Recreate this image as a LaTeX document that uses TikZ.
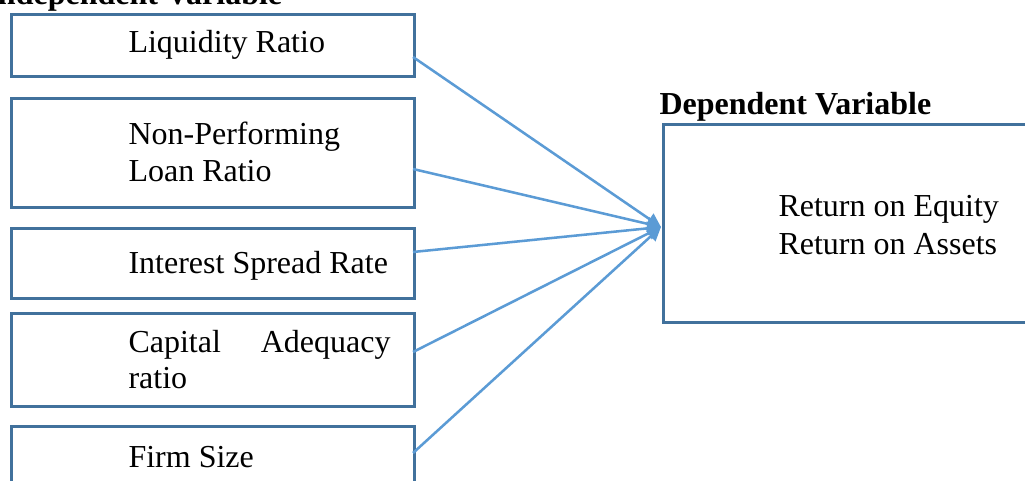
\documentclass[tikz,border=0pt]{standalone}
\usepackage{fontspec}
\setmainfont{Liberation Serif}
\usetikzlibrary{arrows.meta}
\definecolor{boxline}{HTML}{41719C}
\definecolor{arrowline}{HTML}{5B9BD5}
\tikzset{
  varbox/.style={draw=boxline, line width=0.95pt, rectangle, inner sep=0pt},
  label/.style={anchor=base west, inner sep=0pt, font=\fontsize{12pt}{14pt}\selectfont},
  heading/.style={anchor=base west, inner sep=0pt, font=\fontsize{12pt}{14pt}\selectfont\bfseries},
  link/.style={draw=arrowline, line width=0.95pt, -{Triangle[length=5.2pt,width=5pt]}}
}
\begin{document}
\begin{tikzpicture}[x=0.375pt, y=-0.375pt]
  \clip (0,0) rectangle (1025,481);

  % headings
  \node[heading] (indep) at (-15,5) {Independent Variable};
  \node[heading] (dep) at (659,115) {Dependent Variable};

  % independent variable boxes
  \node[varbox, minimum width=403*0.375pt, minimum height=62*0.375pt, anchor=north west] (b1) at (10,13) {};
  \node[varbox, minimum width=403*0.375pt, minimum height=109*0.375pt, anchor=north west] (b2) at (10,97) {};
  \node[varbox, minimum width=403*0.375pt, minimum height=70*0.375pt, anchor=north west] (b3) at (10,227) {};
  \node[varbox, minimum width=403*0.375pt, minimum height=93*0.375pt, anchor=north west] (b4) at (10,312) {};
  \node[varbox, minimum width=403*0.375pt, minimum height=90*0.375pt, anchor=north west] (b5) at (10,425) {};

  % dependent variable box
  \node[varbox, minimum width=380*0.375pt, minimum height=198*0.375pt, anchor=north west] (dv) at (662,123) {};

  % box texts
  \node[label] (t1) at (128,53) {Liquidity Ratio};
  \node[label] (t2a) at (128,145) {Non-Performing};
  \node[label] (t2b) at (128,182) {Loan Ratio};
  \node[label] (t3) at (128,273) {Interest Spread Rate};
  \node[label] (t4a) at (128,352) {\makebox[98.25pt][s]{Capital Adequacy}};
  \node[label] (t4b) at (128,388) {ratio};
  \node[label] (t5) at (128,467) {Firm Size};
  \node[label] (r1) at (778,217) {Return on Equity};
  \node[label] (r2) at (778,255) {Return on Assets};

  % connector end points
  \coordinate (s1) at (413,57);
  \coordinate (s2) at (413,169);
  \coordinate (s3) at (413,252);
  \coordinate (s4) at (413,352);
  \coordinate (s5) at (413,453);
  \coordinate (tip) at (661,227);

  \foreach \s in {s1,s2,s3,s4,s5}
    \draw[link] (\s) -- (tip);
\end{tikzpicture}
\end{document}
